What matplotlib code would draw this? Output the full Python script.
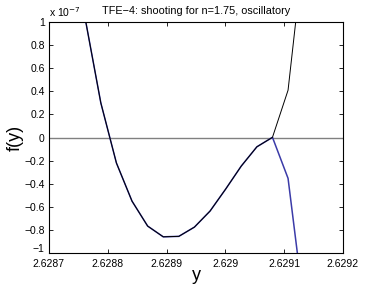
import matplotlib.pyplot as plt
from matplotlib.ticker import FuncFormatter
import matplotlib.transforms as mtransforms

plt.rcParams['font.family'] = ['Liberation Sans', 'DejaVu Sans']

# shooting parameter y and residual f(y)
y_shared = [2.6287617, 2.6287883, 2.6288148, 2.6288413, 2.6288679, 2.6288944,
            2.6289209, 2.6289474, 2.6289740, 2.6290005, 2.6290270, 2.6290536,
            2.6290801]
f_shared = [1.03e-7, 0.30e-7, -0.22e-7, -0.55e-7, -0.766e-7, -0.859e-7,
            -0.855e-7, -0.775e-7, -0.636e-7, -0.446e-7, -0.247e-7, -0.08e-7,
            0.002e-7]
y_tail = [2.6291066, 2.6291332]
f_tail_black = [0.41e-7, 1.62e-7]
f_tail_blue = [-0.353e-7, -1.44e-7]

xticks = [2.6287, 2.6288, 2.6289, 2.6290, 2.6291, 2.6292]
yticks = [-1e-7, -0.8e-7, -0.6e-7, -0.4e-7, -0.2e-7, 0, 0.2e-7, 0.4e-7,
          0.6e-7, 0.8e-7, 1e-7]

fig = plt.figure(figsize=(3.79, 2.86), dpi=100)
ax = fig.add_axes([0.129, 0.115, 0.776, 0.808])

ax.axhline(0, color='#808080', linewidth=1.0)
ax.plot(y_shared + y_tail, f_shared + f_tail_blue, color='#3b3ba8', linewidth=1.1)
ax.plot(y_shared + y_tail, f_shared + f_tail_black, color='black', linewidth=0.7)

ax.set_xlim(2.6287, 2.6292)
ax.set_ylim(-1e-7, 1e-7)
ax.set_xticks(xticks)
ax.set_yticks(yticks)
ax.xaxis.set_major_formatter(FuncFormatter(lambda v, p: '%g' % round(v, 4)))
ax.yaxis.set_major_formatter(FuncFormatter(lambda v, p: ('%g' % round(v / 1e-7, 1)).replace('-', '\u2212')))
ax.tick_params(direction='in', length=3, width=0.6, labelsize=7.5, top=True, right=True)
ax.tick_params(axis='x', pad=4)
ax.tick_params(axis='y', pad=3)
for s in ax.spines.values():
    s.set_linewidth(0.8)

# lift the lowest y label a little, as in the reference
fig.canvas.draw()
lab = ax.get_yticklabels()[0]
lab.set_transform(lab.get_transform() + mtransforms.ScaledTranslation(0, 4 / 72, fig.dpi_scale_trans))

ax.text(0.0, 1.015, 'x 10$^{-7}$', transform=ax.transAxes, fontsize=7.5, ha='left', va='bottom')
ax.set_title('TFE\u22124: shooting for n=1.75, oscillatory', fontsize=7.8, pad=6)
ax.set_xlabel('y', fontsize=13, labelpad=-1)
ax.set_ylabel('f(y)', fontsize=13, labelpad=0)

fig.savefig('out.png', dpi=100)
